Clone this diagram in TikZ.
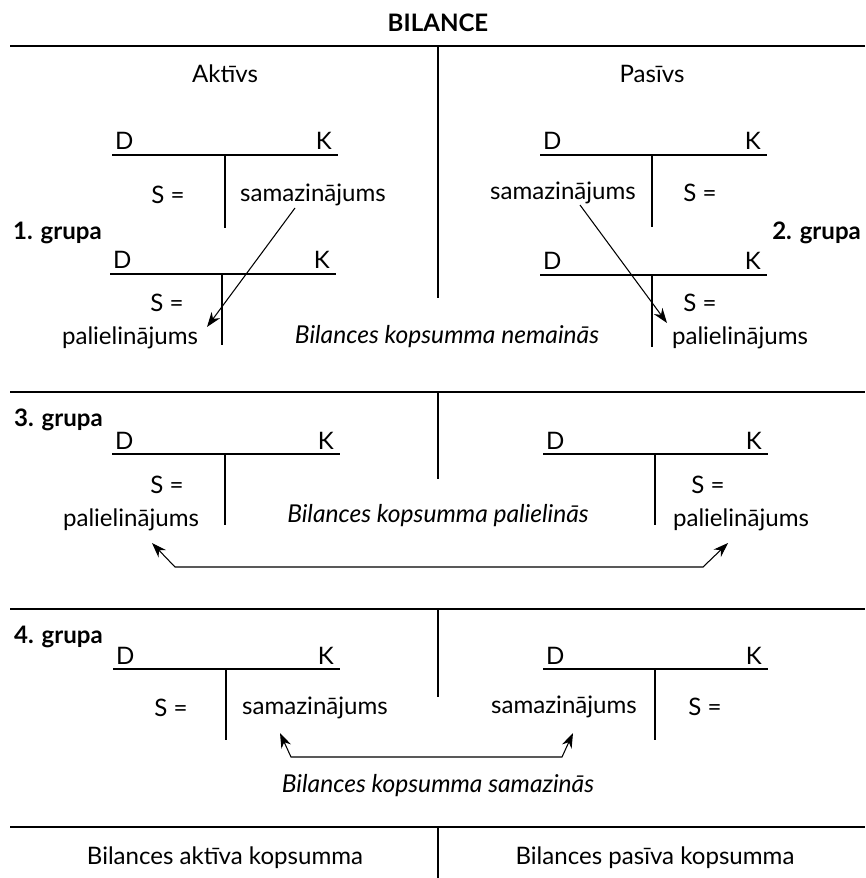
\documentclass[tikz,border=0pt]{standalone}
\usepackage{fontspec}
\setmainfont{Lato}
\usetikzlibrary{arrows.meta,calc}

\tikzset{
  lbl/.style={font=\fontsize{13.7}{16}\selectfont, inner sep=1pt},
  grp/.style={font=\fontsize{13.7}{16}\selectfont\bfseries, inner sep=1pt},
  note/.style={font=\fontsize{14}{16}\selectfont\itshape, inner sep=1pt},
  rule/.style={line width=0.9pt},
  tacc/.style={line width=0.75pt},
  arr/.style={line width=0.6pt, -{Stealth[length=8.5pt,width=6pt]}},
  twoarr/.style={line width=0.6pt, {Stealth[length=8.5pt,width=6pt]}-{Stealth[length=8.5pt,width=6pt]}}
}

\begin{document}
\begin{tikzpicture}[x=0.02cm,y=-0.02cm]
    \useasboundingbox (0,0) rectangle (865,878);

    % title and dividers
    \node[grp] (title) at (438,23) {BILANCE};
    \foreach \y in {46, 392, 609, 827}
      \draw[rule] (10,\y) -- (865,\y);
    \draw[rule] (438,46) -- (438,298);
    \draw[rule] (438,392) -- (438,479);
    \draw[rule] (438,609) -- (438,697);
    \draw[rule] (438,827) -- (438,878);

    \node[lbl] (aktivs) at (225,74) {Aktīvs};
    \node[lbl] (pasivs) at (652,74) {Pasīvs};

    % T accounts: left / right / middle / top / bottom / name
    \foreach \l/\r/\m/\t/\b/\n in {112/338/225/155/228/a1, 110/336/222/274/345/a2,
        540/767/652/155/227/p1, 540/767/652/275/347/p2,
        112/340/225/454/525/a3, 543/768/655/454/525/p3,
        113/340/226/669/740/a4, 543/768/655/669/740/p4} {
      \draw[tacc] (\l,\t) -- (\r,\t);
      \draw[tacc] (\m,\t) -- (\m,\b);
      \node[lbl, anchor=base west] (D\n) at (\l+1,\t-5) {D};
      \node[lbl, anchor=base east] (K\n) at (\r-4,\t-5) {K};
    }

    % 1. and 2. grupa
    \node[grp, anchor=west] (g1) at (11,233) {1. grupa};
    \node[grp, anchor=east] (g2) at (863,233) {2. grupa};
    \node[lbl] (sa1) at (168,195) {S =};
    \node[lbl] (sam1) at (313,195) {samazinājums};
    \node[lbl] (sa2) at (167,303) {S =};
    \node[lbl] (pal1) at (130,338) {palielinājums};
    \node[lbl] (samp1) at (563,193) {samazinājums};
    \node[lbl] (sp1) at (700,193) {S =};
    \node[lbl] (sp2) at (700,303) {S =};
    \node[lbl] (palp1) at (740,338) {palielinājums};
    \node[note] (nemainas) at (447,337) {Bilances kopsumma nemainās};
    \draw[arr] ($(sam1)+(-18,13)$) -- ($(pal1)+(77,-11)$);
    \draw[arr] ($(samp1)+(17,12)$) -- ($(palp1)+(-73,-15)$);

    % 3. grupa
    \node[grp, anchor=west] (g3) at (12,420) {3. grupa};
    \node[lbl] (sa3) at (167,485) {S =};
    \node[lbl] (pal3) at (131,520) {palielinājums};
    \node[lbl] (sp3) at (708,485) {S =};
    \node[lbl] (palp3) at (741,520) {palielinājums};
    \node[note] (palielinas) at (438,516) {Bilances kopsumma palielinās};
    \draw[twoarr] ($(pal3)+(21,23)$) -- ++(23,24) -- ++(528,0)
      -- ($(palp3)+(-13,23)$);

    % 4. grupa
    \node[grp, anchor=west] (g4) at (12,637) {4. grupa};
    \node[lbl] (sa4) at (171,708) {S =};
    \node[lbl] (sam4) at (315,708) {samazinājums};
    \node[lbl] (samp4) at (564,707) {samazinājums};
    \node[lbl] (sp4) at (705,707) {S =};
    \node[note] (samazinas) at (438,786) {Bilances kopsumma samazinās};
    \draw[twoarr] ($(sam4)+(-35,25)$) -- ++(11,24) -- ++(271,0)
      -- ($(samp4)+(9,26)$);

    % totals
    \node[lbl] (aktsum) at (225,858) {Bilances aktīva kopsumma};
    \node[lbl] (passum) at (655,858) {Bilances pasīva kopsumma};
\end{tikzpicture}
\end{document}
